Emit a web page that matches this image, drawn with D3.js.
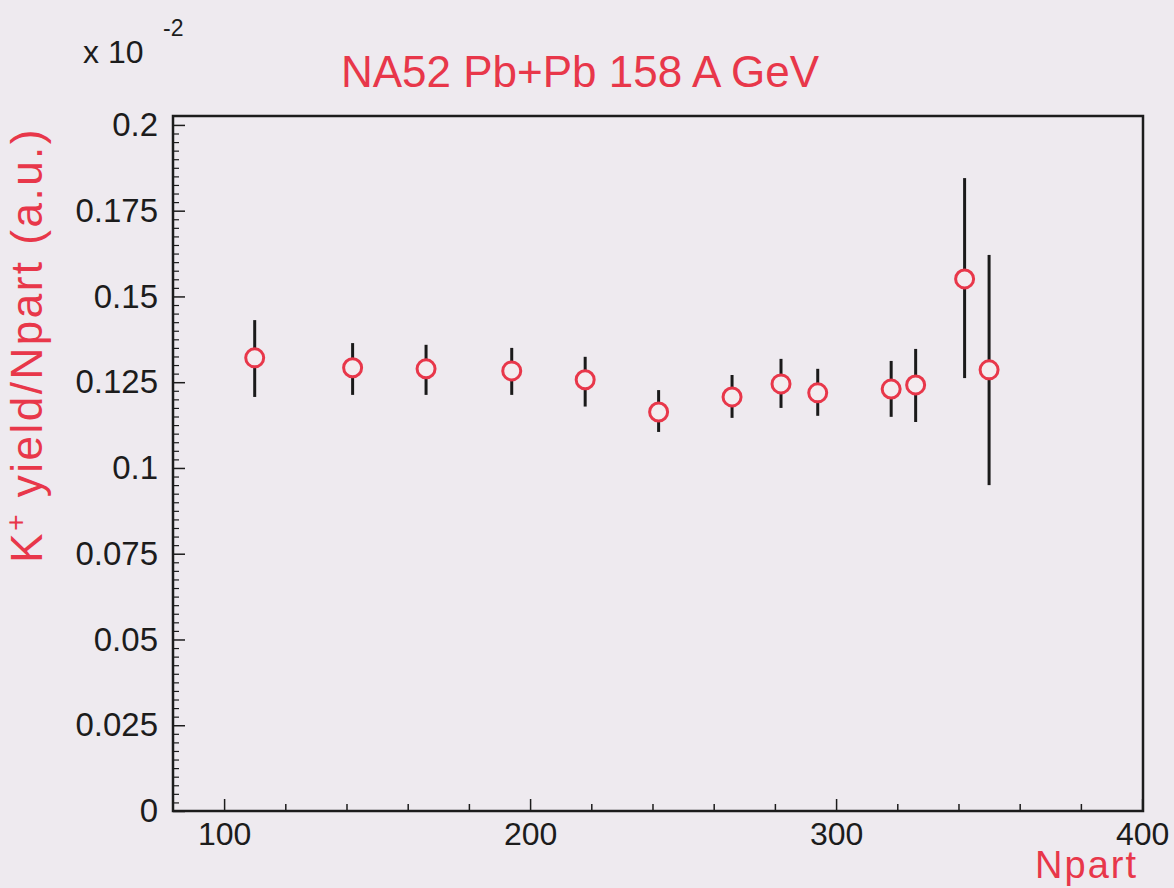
<!DOCTYPE html>
<html>
<head>
<meta charset="utf-8">
<script src="https://cdn.jsdelivr.net/npm/d3@7"></script>
<style>
  body { margin: 0; background: #eeeaef; }
  svg { display: block; font-family: "Liberation Sans", Arial, sans-serif; }
</style>
</head>
<body>
<svg id="chart"></svg>
<script>
// Npart values of the centrality bins
const npart = [110, 142, 166, 194, 218, 242, 266, 282, 294, 318, 326, 342, 350];
// K+ yield / Npart (in units of 10^-2)
const yieldVals = [0.1321, 0.1292, 0.1289, 0.1283, 0.1257, 0.1163, 0.1207, 0.1245, 0.1219, 0.1230, 0.1242, 0.1551, 0.1286];
// upper / lower ends of the error bars
const errHigh = [0.1431, 0.1364, 0.1359, 0.1350, 0.1324, 0.1227, 0.1271, 0.1318, 0.1289, 0.1312, 0.1347, 0.1845, 0.1621];
const errLow = [0.1207, 0.1213, 0.1213, 0.1213, 0.1179, 0.1105, 0.1146, 0.1175, 0.1152, 0.1149, 0.1134, 0.1262, 0.0950];

const xTicks = [100, 200, 300, 400];
const yTicks = [0, 0.025, 0.05, 0.075, 0.1, 0.125, 0.15, 0.175, 0.2];
const yTickLabels = ["0", "0.025", "0.05", "0.075", "0.1", "0.125", "0.15", "0.175", "0.2"];

const data = npart.map((n, i) => ({ x: n, y: yieldVals[i], hi: errHigh[i], lo: errLow[i] }));

const width = 1174, height = 888;
const frame = { left: 173, right: 1143, top: 116, bottom: 811 };

const svg = d3.select("#chart")
    .attr("width", width)
    .attr("height", height);

svg.append("rect")
    .attr("width", width)
    .attr("height", height)
    .attr("fill", "#eeeaef");

const x = d3.scaleLinear()
    .domain([83.3, 400.3])
    .range([frame.left, frame.right]);

const y = d3.scaleLinear()
    .domain([0, 0.2026])
    .range([frame.bottom, frame.top]);

const ink = "#1c1c1c";
const red = "#e8374a";

// x axis ticks (pointing into the frame)
const xMinor = d3.range(100, 401, 20).filter(v => !xTicks.includes(v) && x(v) > frame.left);
svg.append("g")
    .attr("transform", `translate(0,${frame.bottom})`)
    .call(d3.axisBottom(x).tickValues(xMinor).tickSize(-7).tickFormat(""))
    .call(g => g.select(".domain").remove())
    .call(g => g.selectAll("line").attr("stroke", ink).attr("stroke-width", 1.5));

svg.append("g")
    .attr("transform", `translate(0,${frame.bottom})`)
    .call(d3.axisBottom(x).tickValues(xTicks).tickSize(-12).tickPadding(11).tickFormat(d3.format("d")))
    .call(g => g.select(".domain").remove())
    .call(g => g.selectAll("line").attr("stroke", ink).attr("stroke-width", 1.5))
    .call(g => g.selectAll("text").attr("fill", ink).style("font-size", "32px"));

// y axis ticks
const yMinor = d3.range(0, 81).map(i => i * 0.0025).filter(v => Math.round(v * 10000) % 250 !== 0);
svg.append("g")
    .attr("transform", `translate(${frame.left},0)`)
    .call(d3.axisLeft(y).tickValues(yMinor).tickSize(-6).tickFormat(""))
    .call(g => g.select(".domain").remove())
    .call(g => g.selectAll("line").attr("stroke", ink).attr("stroke-width", 1.2));

svg.append("g")
    .attr("transform", `translate(${frame.left},0)`)
    .call(d3.axisLeft(y).tickValues(yTicks).tickSize(-12).tickPadding(15)
        .tickFormat((d, i) => yTickLabels[i]))
    .call(g => g.select(".domain").remove())
    .call(g => g.selectAll("line").attr("stroke", ink).attr("stroke-width", 1.5))
    .call(g => g.selectAll("text").attr("fill", ink).style("font-size", "33px"));

// frame
svg.append("rect")
    .attr("x", frame.left)
    .attr("y", frame.top)
    .attr("width", frame.right - frame.left)
    .attr("height", frame.bottom - frame.top)
    .attr("fill", "none")
    .attr("stroke", ink)
    .attr("stroke-width", 2.5);

// error bars
svg.append("g").selectAll("line")
    .data(data)
    .join("line")
    .attr("x1", d => x(d.x))
    .attr("x2", d => x(d.x))
    .attr("y1", d => y(d.hi))
    .attr("y2", d => y(d.lo))
    .attr("stroke", "#1a1a1a")
    .attr("stroke-width", 3);

// markers
svg.append("g").selectAll("circle")
    .data(data)
    .join("circle")
    .attr("cx", d => x(d.x))
    .attr("cy", d => y(d.y))
    .attr("r", 9)
    .attr("fill", "#f3ecef")
    .attr("stroke", red)
    .attr("stroke-width", 3);

// exponent label
svg.append("text")
    .attr("x", 83)
    .attr("y", 63)
    .attr("fill", ink)
    .style("font-size", "32px")
    .text("x 10");
svg.append("text")
    .attr("x", 163)
    .attr("y", 36)
    .attr("fill", ink)
    .style("font-size", "23px")
    .text("-2");

// title
svg.append("text")
    .attr("x", 580)
    .attr("y", 87)
    .attr("text-anchor", "middle")
    .attr("fill", red)
    .style("font-size", "44px")
    .text("NA52 Pb+Pb 158 A GeV");

// y axis title
const yTitle = svg.append("text")
    .attr("transform", "translate(42,127) rotate(-90)")
    .attr("text-anchor", "end")
    .attr("fill", red)
    .style("font-size", "44px")
    .style("letter-spacing", "2.5px");
yTitle.append("tspan").text("K");
yTitle.append("tspan").attr("dy", -17).style("font-size", "28px").text("+");
yTitle.append("tspan").attr("dy", 17).text(" yield/Npart (a.u.)");

// x axis title
svg.append("text")
    .attr("x", 1138)
    .attr("y", 878)
    .attr("text-anchor", "end")
    .attr("fill", red)
    .style("font-size", "38px")
    .style("letter-spacing", "2px")
    .text("Npart");
</script>
</body>
</html>
